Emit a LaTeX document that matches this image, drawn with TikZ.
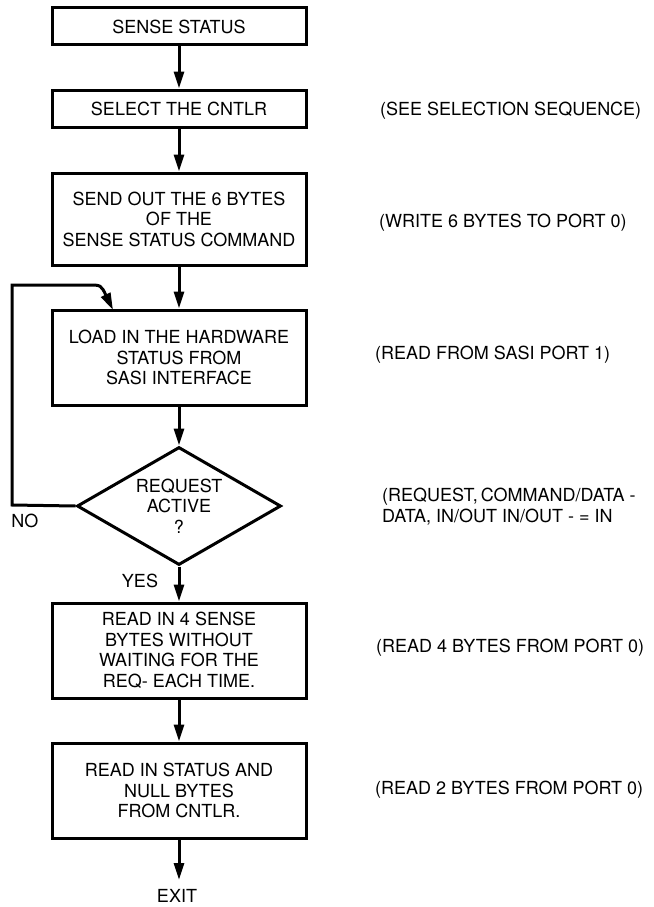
\documentclass[tikz,border=0pt]{standalone}
\usepackage{fontspec}
\setmainfont{TeX Gyre Heros}
\usetikzlibrary{shapes.geometric,arrows.meta}
\begin{document}
\begin{tikzpicture}[x=1pt,y=-1pt,
  font=\fontsize{18}{20.5}\selectfont,
  box/.style={draw, line width=3pt, minimum width=254pt, align=center, inner sep=0pt},
  flow/.style={line width=3pt, -{Triangle[length=17pt,width=10pt]}},
  note/.style={anchor=west, inner sep=0pt, align=left},
  lbl/.style={inner sep=0pt}]
\useasboundingbox (0,0) rectangle (653,907);

\node[box, minimum height=37pt] (b1) at (179,26.5) {SENSE STATUS};
\node[box, minimum height=37pt] (b2) at (179,108.5) {SELECT THE CNTLR};
\node[box, minimum height=92pt] (b3) at (179,219) {SEND OUT THE 6 BYTES\\OF THE\\SENSE STATUS COMMAND};
\node[box, minimum height=95pt] (b4) at (179,357.5) {LOAD IN THE HARDWARE\\STATUS FROM\\SASI INTERFACE};
\node[draw, diamond, aspect=1.73, minimum width=204pt, minimum height=118pt,
      line width=3pt, inner sep=0pt, align=center] (d) at (179,506) {REQUEST\\ACTIVE\\?};
\node[box, minimum height=95pt] (b5) at (179,650.5) {READ IN 4 SENSE\\BYTES WITHOUT\\WAITING FOR THE\\REQ- EACH TIME.};
\node[box, minimum height=95pt] (b6) at (179,790.5) {READ IN STATUS AND\\NULL BYTES\\FROM CNTLR.};
\coordinate (exitpt) at (179,880);
\node[lbl] (exit) at (177,896) {EXIT};

\node[lbl] (no) at (25,521) {NO};
\node[lbl] (yes) at (140,581) {YES};

\draw[flow] (b1) -- (b2);
\draw[flow] (b2) -- (b3);
\draw[flow] (b3) -- (b4);
\draw[flow] (b4) -- (d);
\draw[flow] (d) -- (b5);
\draw[flow] (b5) -- (b6);
\draw[flow] (b6) -- (exitpt);

\coordinate (l1) at (12,505);
\coordinate (l2) at (12,285);
\coordinate (l3) at (88,285);
\coordinate (l4) at (113,310);
\draw[flow] (d.west) -- (l1) -- (l2) -- (l3) .. controls (101,285) .. (l4);

\node[note] (n1) at (380,111) {(SEE SELECTION SEQUENCE)};
\node[note] (n2) at (379,223) {(WRITE 6 BYTES TO PORT 0)};
\node[note] (n3) at (375,355) {(READ FROM SASI PORT 1)};
\node[note] (n4a) at (382,497) {(REQUEST,\,COMMAND/DATA -};
\node[note] (n4b) at (382,517) {DATA, IN/OUT IN/OUT - = IN};
\node[note] (n5) at (376,648) {(READ 4 BYTES FROM PORT 0)};
\node[note] (n6) at (375,790) {(READ 2 BYTES FROM PORT 0)};
\end{tikzpicture}
\end{document}
